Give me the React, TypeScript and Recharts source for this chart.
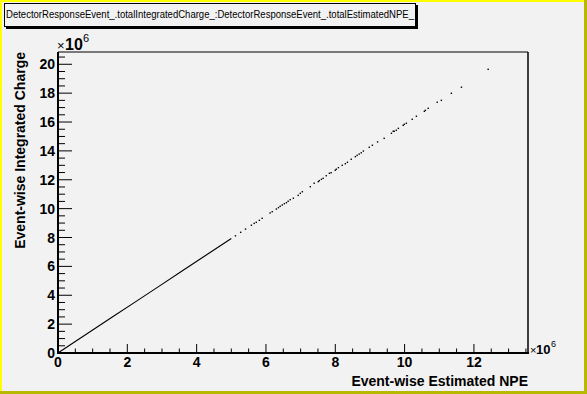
import React from 'react';
import { ScatterChart, Scatter, XAxis, YAxis } from 'recharts';

// values in units of 1e6
const DENSE_NPE = [0, 0.4, 1.0, 1.6, 2.2, 2.9, 3.6, 4.3, 5.0];
const DENSE_CHARGE = [0, 0.64, 1.59, 2.54, 3.49, 4.6, 5.71, 6.82, 7.93];

const SPARSE_NPE = [
  5.12, 5.27, 5.41, 5.58, 5.66, 5.72, 5.81, 5.89, 6.12, 6.18, 6.30, 6.36, 6.41, 6.47,
  6.53, 6.59, 6.64, 6.70, 6.79, 6.93, 6.99, 7.05, 7.28, 7.39, 7.51, 7.54, 7.60, 7.65,
  7.74, 7.83, 7.88, 8.00, 8.03, 8.09, 8.20, 8.29, 8.35, 8.46, 8.58, 8.63, 8.69, 8.75,
  8.81, 8.98, 9.07, 9.22, 9.41, 9.62, 9.67, 9.70, 9.76, 9.82, 9.96, 9.99, 10.05, 10.22,
  10.34, 10.57, 10.60, 10.68, 10.94, 11.06, 11.35, 11.64, 12.41,
];
const SPARSE_CHARGE = [
  8.12, 8.36, 8.58, 8.85, 8.98, 9.05, 9.19, 9.33, 9.70, 9.79, 9.97, 10.07, 10.16, 10.25,
  10.34, 10.41, 10.51, 10.62, 10.72, 10.92, 11.06, 11.17, 11.52, 11.76, 11.87, 11.94, 12.03, 12.10,
  12.28, 12.45, 12.49, 12.66, 12.73, 12.84, 13.00, 13.11, 13.21, 13.42, 13.60, 13.69, 13.78, 13.87,
  13.99, 14.25, 14.39, 14.62, 14.87, 15.22, 15.36, 15.36, 15.43, 15.56, 15.77, 15.84, 15.91, 16.19,
  16.40, 16.74, 16.81, 16.95, 17.37, 17.50, 17.99, 18.41, 19.65,
];

const X_MAJOR = [0, 2, 4, 6, 8, 10, 12];
const Y_MAJOR = [0, 2, 4, 6, 8, 10, 12, 14, 16, 18, 20];

const X_MAX = 13.56;
const Y_MAX = 20.85;

const W = 587;
const H = 394;
const LEFT = 58;
const RIGHT = 528;
const TOP = 52;
const BOTTOM = 353;
const X_AXIS_H = 30;
const Y_AXIS_W = 40;

const FONT = "'Liberation Sans', Arial, Helvetica, sans-serif";

const dense = DENSE_NPE.map((x, i) => ({ x, y: DENSE_CHARGE[i] }));
const sparse = SPARSE_NPE.map((x, i) => ({ x, y: SPARSE_CHARGE[i] }));

const minorTicks = (max: number) => {
  const out: number[] = [];
  for (let v = 0; v <= max + 1e-9; v += 0.5) out.push(Math.round(v * 10) / 10);
  return out;
};
const xTicks = minorTicks(13.5);
const yTicks = minorTicks(20.5);

const isMajor = (v: number, majors: number[]) => majors.some((m) => Math.abs(m - v) < 1e-6);

const renderXTick = (props: any) => {
  const { x, y, payload } = props;
  const major = isMajor(payload.value, X_MAJOR);
  return (
    <g key={`xt-${payload.value}`}>
      <line x1={x} x2={x} y1={y} y2={y - (major ? 9 : 4.5)} stroke="#000" strokeWidth={1} />
      {major && (
        <text x={x} y={y + 14} textAnchor="middle" fontFamily={FONT} fontWeight="bold" fontSize={14} fill="#000">
          {payload.value}
        </text>
      )}
    </g>
  );
};

const renderYTick = (props: any) => {
  const { x, y, payload } = props;
  const major = isMajor(payload.value, Y_MAJOR);
  return (
    <g key={`yt-${payload.value}`}>
      <line x1={x} x2={x + (major ? 14 : 7)} y1={y} y2={y} stroke="#000" strokeWidth={1} />
      {major && (
        <text x={x - 3} y={y + 5} textAnchor="end" fontFamily={FONT} fontWeight="bold" fontSize={14} fill="#000">
          {payload.value}
        </text>
      )}
    </g>
  );
};

const Dot = (props: any) => {
  const { cx, cy } = props;
  return <rect x={cx - 0.7} y={cy - 0.7} width={1.4} height={1.4} fill="#000" />;
};

const NoShape = () => <g />;

export default function App() {
  return (
    <div style={{ position: 'absolute', left: 0, top: 0, width: W, height: H, background: '#f2f2f2' }}>
      <ScatterChart
        width={W}
        height={H}
        margin={{ top: TOP, left: LEFT - Y_AXIS_W, right: W - RIGHT, bottom: H - BOTTOM - X_AXIS_H }}
      >
        <XAxis
          type="number"
          dataKey="x"
          domain={[0, X_MAX]}
          ticks={xTicks}
          interval={0}
          allowDataOverflow
          height={X_AXIS_H}
          tickSize={0}
          tickMargin={0}
          tickLine={false}
          axisLine={false}
          tick={renderXTick}
        />
        <YAxis
          type="number"
          dataKey="y"
          domain={[0, Y_MAX]}
          ticks={yTicks}
          interval={0}
          allowDataOverflow
          width={Y_AXIS_W}
          tickSize={0}
          tickMargin={0}
          tickLine={false}
          axisLine={false}
          tick={renderYTick}
        />
        <Scatter
          data={dense}
          line={{ stroke: '#000', strokeWidth: 1.1 }}
          lineType="joint"
          shape={<NoShape />}
          isAnimationActive={false}
        />
        <Scatter data={sparse} shape={<Dot />} isAnimationActive={false} />
      </ScatterChart>
      <svg width={W} height={H} style={{ position: 'absolute', left: 0, top: 0, pointerEvents: 'none' }}>
        {/* canvas bevel */}
        <rect x={0} y={0} width={W} height={2} fill="#ffff00" />
        <rect x={0} y={0} width={2} height={H} fill="#ffff00" />
        <rect x={W - 3} y={0} width={3} height={H} fill="#b8b800" />
        <rect x={0} y={H - 3} width={W} height={3} fill="#b8b800" />
        {/* frame */}
        <line x1={LEFT} x2={RIGHT} y1={TOP} y2={TOP} stroke="#000" strokeWidth={1} />
        <line x1={RIGHT} x2={RIGHT} y1={TOP} y2={BOTTOM} stroke="#000" strokeWidth={1.5} />
        <line x1={LEFT} x2={LEFT} y1={TOP} y2={BOTTOM + 1} stroke="#000" strokeWidth={2} />
        <line x1={LEFT} x2={RIGHT + 1} y1={BOTTOM} y2={BOTTOM} stroke="#000" strokeWidth={2} />
        {/* title box */}
        <rect x={6} y={5} width={412} height={24} fill="#000" />
        <rect x={4.5} y={3.5} width={411} height={23} fill="#f2f2f2" stroke="#000" strokeWidth={1} />
        <text x={6} y={18} fontFamily={FONT} fontSize={10} fill="#000" textLength={408} lengthAdjust="spacingAndGlyphs">
          DetectorResponseEvent_.totalIntegratedCharge_:DetectorResponseEvent_.totalEstimatedNPE_
        </text>
        {/* exponents */}
        <text x={57} y={50} fontFamily={FONT} fontSize={13} fill="#000">×</text>
        <text x={65} y={50} fontFamily={FONT} fontSize={16} fontWeight="bold" fill="#000">10</text>
        <text x={83} y={42} fontFamily={FONT} fontSize={11} fill="#000">6</text>
        <text x={530} y={354} fontFamily={FONT} fontSize={11} fill="#000">×</text>
        <text x={536} y={354} fontFamily={FONT} fontSize={13} fontWeight="bold" fill="#000">10</text>
        <text x={551} y={347} fontFamily={FONT} fontSize={9} fill="#000">6</text>
        {/* axis titles */}
        <text x={RIGHT} y={386} textAnchor="end" fontFamily={FONT} fontSize={14} fontWeight="bold" fill="#000">
          Event-wise Estimated NPE
        </text>
        <text
          x={0}
          y={0}
          transform={`translate(25, ${TOP}) rotate(-90)`}
          textAnchor="end"
          fontFamily={FONT}
          fontSize={14}
          fontWeight="bold"
          fill="#000"
        >
          Event-wise Integrated Charge
        </text>
      </svg>
    </div>
  );
}
